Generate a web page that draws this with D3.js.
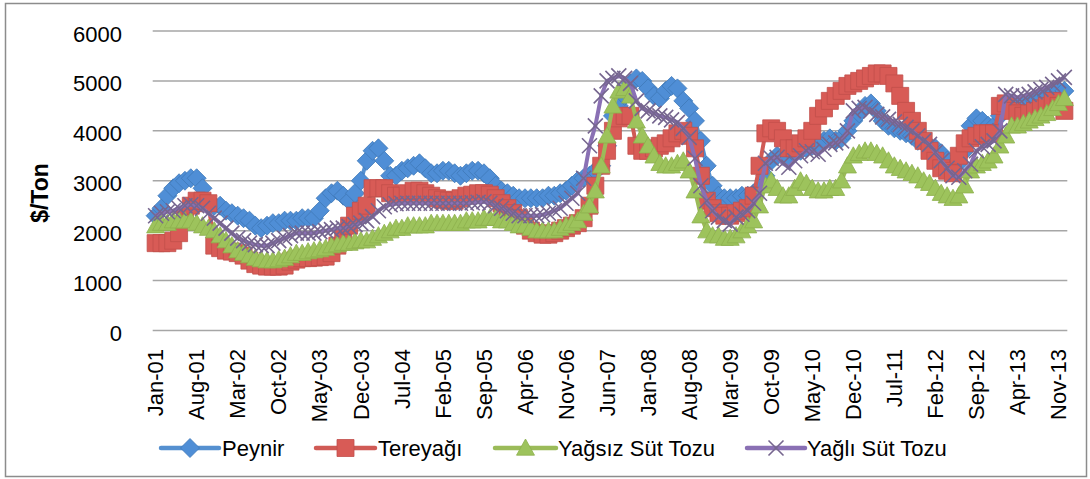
<!DOCTYPE html>
<html lang="tr">
<head>
<meta charset="utf-8">
<title>Süt ürünleri fiyatları</title>
<script src="https://d3js.org/d3.v7.min.js"></script>
<style>
  body { margin: 0; background: #fff; }
  text { font-family: "Liberation Sans", Arial, sans-serif; fill: #000; }
</style>
</head>
<body>
<div id="chart"></div>
<script>
// monthly prices, $/Ton, Jan-01 .. Dec-13 (one row per year)
const peynir = [
  2300, 2450, 2700, 2850, 2950, 3000, 3050, 3050, 2850, 2550, 2500, 2500,
  2400, 2350, 2300, 2250, 2200, 2100, 2050, 2100, 2150, 2150, 2200, 2200,
  2200, 2250, 2250, 2250, 2400, 2650, 2750, 2800, 2700, 2600, 2750, 3000,
  3400, 3600, 3650, 3400, 3100, 3100, 3200, 3250, 3300, 3350, 3250, 3150,
  3150, 3200, 3200, 3150, 3100, 3150, 3200, 3200, 3150, 3050, 2900, 2800,
  2750, 2700, 2650, 2650, 2650, 2650, 2650, 2700, 2700, 2750, 2800, 2900,
  3000, 3050, 3100, 3200, 3300, 3700, 4300, 4500, 4700, 4950, 5050, 5000,
  4850, 4700, 4650, 4800, 4900, 4850, 4600, 4450, 4200, 3800, 3300, 2900,
  2700, 2650, 2650, 2650, 2700, 2700, 2750, 2850, 3100, 3400, 3500, 3500,
  3450, 3550, 3600, 3650, 3700, 3750, 3800, 3850, 3800, 3850, 4000, 4200,
  4350, 4500, 4550, 4400, 4200, 4100, 4050, 4000, 3950, 3900, 3800, 3750,
  3700, 3650, 3550, 3400, 3300, 3350, 3600, 4100, 4250, 4200, 4100, 4100,
  4300, 4500, 4550, 4500, 4500, 4550, 4600, 4650, 4700, 4750, 4800, 4800
];
const tereyagi = [
  1750, 1750, 1750, 1800, 1950, 2250, 2500, 2600, 2600, 2550, 1700, 1650,
  1600, 1580, 1550, 1500, 1400, 1330, 1300, 1280, 1280, 1280, 1300, 1380,
  1420, 1450, 1450, 1460, 1470, 1480, 1550, 1700, 1850, 2100, 2300, 2400,
  2500, 2850, 2850, 2850, 2750, 2700, 2700, 2750, 2800, 2800, 2750, 2700,
  2650, 2620, 2600, 2600, 2650, 2700, 2720, 2750, 2750, 2720, 2650, 2550,
  2450, 2350, 2250, 2100, 2000, 1950, 1920, 1920, 1950, 2000, 2050, 2100,
  2150, 2250, 2500, 2900, 3300, 3600, 4000, 4250, 4300, 4300, 3700, 3600,
  3600, 3650, 3700, 3750, 3850, 3950, 4000, 3900, 3650, 3100, 2600, 2450,
  2350, 2300, 2300, 2350, 2400, 2450, 2700, 3300, 3950, 4050, 4000, 3850,
  3650, 3650, 3750, 3850, 4000, 4300, 4450, 4600, 4700, 4800, 4900, 4950,
  5000, 5050, 5100, 5150, 5150, 5100, 4950, 4700, 4400, 4200, 4000, 3800,
  3600, 3400, 3250, 3200, 3150, 3500, 3750, 3850, 3900, 3950, 3950, 3950,
  4500, 4550, 4400, 4350, 4300, 4350, 4400, 4450, 4500, 4600, 4500, 4400
];
const yagsizSutTozu = [
  2100, 2150, 2150, 2200, 2200, 2200, 2200, 2150, 2100, 2050, 2000, 1900,
  1800, 1700, 1600, 1550, 1500, 1450, 1420, 1400, 1400, 1420, 1450, 1500,
  1550, 1550, 1580, 1600, 1620, 1650, 1700, 1720, 1750, 1750, 1780, 1800,
  1800, 1850, 1900, 1950, 2000, 2050, 2050, 2100, 2100, 2100, 2100, 2150,
  2150, 2150, 2150, 2150, 2150, 2200, 2200, 2200, 2250, 2250, 2250, 2200,
  2200, 2150, 2100, 2100, 2050, 2000, 2000, 2000, 2000, 2050, 2100, 2150,
  2200, 2350, 2500, 2800, 3300, 3900, 4500, 4800, 4850, 4700, 4200, 3900,
  3700, 3500, 3350, 3300, 3300, 3350, 3400, 3200, 2800, 2300, 2000, 1900,
  1900, 1850, 1850, 1900, 2000, 2100, 2200, 2500, 2900, 3000, 2850, 2700,
  2700, 2850, 3000, 2950, 2850, 2800, 2800, 2850, 2850, 3000, 3300, 3500,
  3550, 3600, 3600, 3550, 3500, 3400, 3300, 3250, 3200, 3150, 3100, 3000,
  2950, 2850, 2750, 2700, 2650, 2700, 2900, 3200, 3300, 3350, 3400, 3500,
  3700, 3900, 4100, 4100, 4150, 4200, 4250, 4300, 4350, 4450, 4550, 4650
];
const yagliSutTozu = [
  2300, 2350, 2380, 2400, 2450, 2500, 2520, 2500, 2450, 2350, 2250, 2150,
  2050, 1950, 1850, 1800, 1750, 1720, 1700, 1700, 1750, 1800, 1850, 1900,
  1950, 1950, 1950, 1950, 1980, 2000, 2020, 2050, 2050, 2080, 2120, 2150,
  2200, 2280, 2400, 2480, 2520, 2540, 2550, 2550, 2550, 2550, 2550, 2550,
  2550, 2550, 2550, 2550, 2550, 2550, 2560, 2570, 2580, 2550, 2500, 2450,
  2400, 2350, 2300, 2300, 2300, 2300, 2320, 2350, 2400, 2450, 2550, 2650,
  2750, 3050, 3700, 4100, 4700, 5000, 5050, 5100, 5050, 4950, 4600, 4450,
  4400, 4350, 4300, 4270, 4220, 4170, 4050, 3870, 3450, 2900, 2600, 2400,
  2270, 2200, 2130, 2270, 2330, 2400, 2550, 2750, 3350, 3450, 3470, 3350,
  3270, 3400, 3500, 3600, 3580, 3530, 3630, 3730, 3760, 3800, 4000, 4400,
  4450, 4470, 4400, 4330, 4280, 4230, 4180, 4130, 4070, 4000, 3900, 3800,
  3730, 3570, 3400, 3250, 3100, 3070, 3200, 3330, 3600, 3680, 3730, 3800,
  4000, 4730, 4700, 4670, 4700, 4730, 4780, 4830, 4870, 4930, 5000, 5070
];

const years = d3.range(2001, 2014);
const monthNames = ["Jan", "Feb", "Mar", "Apr", "May", "Jun", "Jul", "Aug", "Sep", "Oct", "Nov", "Dec"];
const months = years.flatMap(y => monthNames.map(m => m + "-" + String(y).slice(2)));
const yTicks = [0, 1000, 2000, 3000, 4000, 5000, 6000];
const labelEvery = 7; // every 7th month gets a label

const seriesNames = ["Peynir", "Tereyağı", "Yağsız Süt Tozu", "Yağlı Süt Tozu"];
const seriesValues = [peynir, tereyagi, yagsizSutTozu, yagliSutTozu];

// marker shapes, custom types for d3.symbol (size = half width)
const diamond = { draw(c, s) { c.moveTo(0, -s); c.lineTo(s, 0); c.lineTo(0, s); c.lineTo(-s, 0); c.closePath(); } };
const square = { draw(c, s) { c.rect(-s, -s, 2 * s, 2 * s); } };
const triangle = { draw(c, s) { c.moveTo(0, -s); c.lineTo(s, s * 0.8); c.lineTo(-s, s * 0.8); c.closePath(); } };
const cross = { draw(c, s) { c.moveTo(-s, -s); c.lineTo(s, s); c.moveTo(s, -s); c.lineTo(-s, s); } };

const styles = [
  { line: "#5590D0", fill: "#4F8ED6", stroke: "#3F78B8", shape: diamond, size: 9.5 },
  { line: "#D05A55", fill: "#D85B56", stroke: "#C24F4B", shape: square, size: 8.5 },
  { line: "#9BBB59", fill: "#9DC35C", stroke: "#8DB04D", shape: triangle, size: 9 },
  { line: "#8A70B4", fill: "none", stroke: "#76668F", shape: cross, size: 7.5 }
];

const W = 1090, H = 479;
const svg = d3.select("#chart").append("svg")
  .attr("width", W)
  .attr("height", H);

svg.append("rect")
  .attr("x", 5.5).attr("y", 3.5)
  .attr("width", 1081).attr("height", 473)
  .attr("fill", "#fff")
  .attr("stroke", "#8c8c8c")
  .attr("stroke-width", 1.5);

const x = d3.scaleBand().domain(months).range([152.7, 1067.3]);
const y = d3.scaleLinear().domain([0, 6000]).range([330.5, 31]);
const cx = m => x(m) + x.bandwidth() / 2;

// gridlines
svg.append("g")
  .selectAll("line")
  .data(yTicks)
  .join("line")
  .attr("x1", 152.7).attr("x2", 1067.3)
  .attr("y1", d => y(d)).attr("y2", d => y(d))
  .attr("stroke", "#a6a6a6")
  .attr("stroke-width", 1.5);

// y axis labels
const yAxis = svg.append("g")
  .attr("transform", "translate(122,3)")
  .call(d3.axisLeft(y).tickValues(yTicks).tickSize(0).tickPadding(0).tickFormat(d3.format("d")));
yAxis.select(".domain").remove();
yAxis.selectAll("text")
  .style("font-size", "22px")
  .style("font-family", "Liberation Sans, Arial, sans-serif")
  .attr("fill", "#000");

svg.append("text")
  .attr("transform", "translate(48,193) rotate(-90)")
  .attr("text-anchor", "middle")
  .style("font-size", "23px")
  .style("font-weight", "bold")
  .text("$/Ton");

// x axis labels (rotated)
const xLabels = months.filter((m, i) => i % labelEvery === 0);
svg.append("g")
  .selectAll("text")
  .data(xLabels)
  .join("text")
  .attr("transform", d => `translate(${cx(d)},349) rotate(-90)`)
  .attr("text-anchor", "end")
  .attr("dy", "0.35em")
  .style("font-size", "22px")
  .text(d => d);

// series, drawn in order so the later ones sit on top
const line = d3.line().x(d => cx(d.m)).y(d => y(d.v));
seriesValues.forEach((vals, si) => {
  const st = styles[si];
  const pts = vals.map((v, i) => ({ m: months[i], v }));
  const g = svg.append("g");
  g.append("path")
    .datum(pts)
    .attr("d", line)
    .attr("fill", "none")
    .attr("stroke", st.line)
    .attr("stroke-width", 4)
    .attr("stroke-linejoin", "round");
  g.selectAll(".mk")
    .data(pts)
    .join("path")
    .attr("class", "mk")
    .attr("transform", d => `translate(${cx(d.m)},${y(d.v)})`)
    .attr("d", d3.symbol(st.shape, st.size))
    .attr("fill", st.fill)
    .attr("stroke", st.stroke)
    .attr("stroke-width", si === 3 ? 1.6 : 0.8);
});

// legend
const legendItems = [
  { x1: 161, x2: 219, tx: 222 },
  { x1: 316, x2: 375, tx: 378 },
  { x1: 495, x2: 556, tx: 558 },
  { x1: 747, x2: 805, tx: 807 }
];
const lg = svg.append("g")
  .selectAll("g")
  .data(seriesNames)
  .join("g");
lg.append("line")
  .attr("x1", (d, i) => legendItems[i].x1)
  .attr("x2", (d, i) => legendItems[i].x2)
  .attr("y1", 448).attr("y2", 448)
  .attr("stroke", (d, i) => styles[i].line)
  .attr("stroke-width", 4.5)
  .attr("stroke-linecap", "round");
lg.append("path")
  .attr("transform", (d, i) => `translate(${(legendItems[i].x1 + legendItems[i].x2) / 2},448)`)
  .attr("d", (d, i) => d3.symbol(styles[i].shape, styles[i].size)())
  .attr("fill", (d, i) => styles[i].fill)
  .attr("stroke", (d, i) => styles[i].stroke)
  .attr("stroke-width", (d, i) => i === 3 ? 1.6 : 0.8);
lg.append("text")
  .attr("x", (d, i) => legendItems[i].tx)
  .attr("y", 456)
  .style("font-size", "22px")
  .text(d => d);
</script>
</body>
</html>
